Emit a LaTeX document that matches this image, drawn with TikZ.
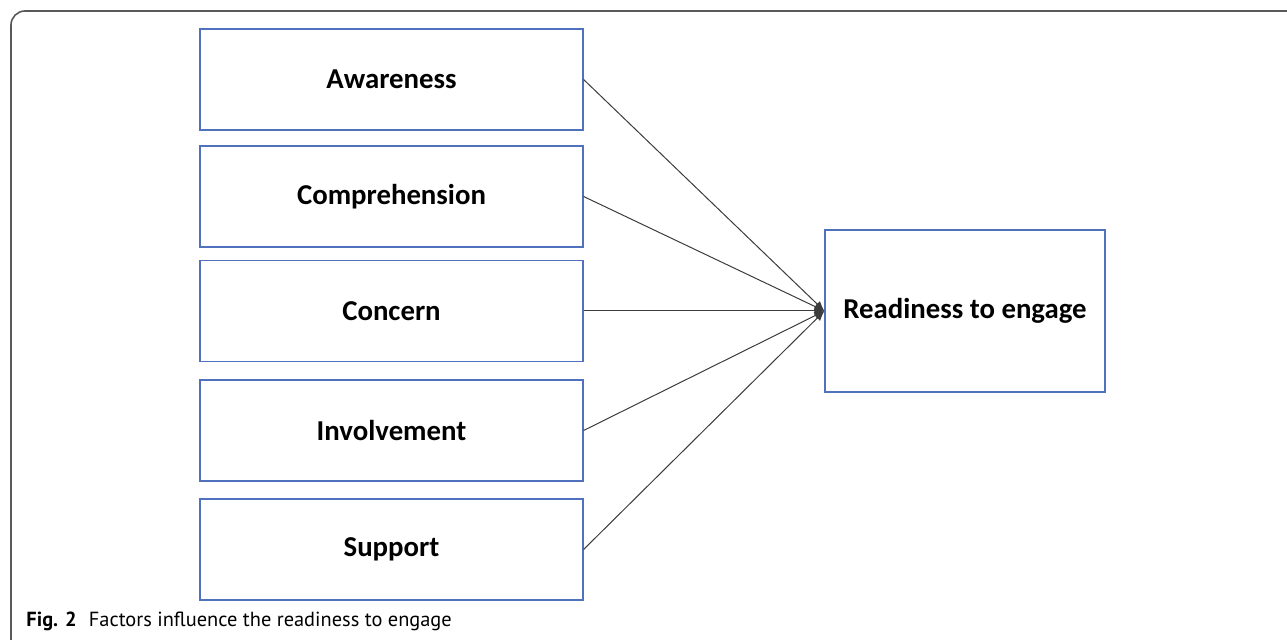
\documentclass[tikz,border=0pt]{standalone}
\usepackage{fontspec}
\setmainfont{Carlito}
\newfontfamily\capfont{PT Sans}
\usetikzlibrary{arrows.meta,positioning}
\definecolor{boxblue}{RGB}{79,113,190}
\definecolor{linegray}{RGB}{60,60,60}
\tikzset{
  facteur/.style={draw=boxblue, line width=0.6pt, minimum width=191.5pt, minimum height=50.5pt,
    font=\fontsize{14.4}{16}\selectfont\bfseries},
  cible/.style={draw=boxblue, line width=0.6pt, minimum width=140pt, minimum height=81pt,
    font=\fontsize{14.4}{16}\selectfont\bfseries},
  fleche/.style={draw=linegray, line width=0.5pt, -{Latex[length=5pt,width=4pt]}}
}

\begin{document}
\begin{tikzpicture}[x=0.5pt,y=-0.5pt]
    \useasboundingbox (0,0) rectangle (1287,640);

    % Cadre de la figure
    \draw[gray!70!black, line width=0.8pt, rounded corners=7pt] (11,640) -- (11,11) -- (1287,11);

    % Les facteurs
    \node[facteur] (aware)   at (391.5,79.5)  {Awareness};
    \node[facteur] (compreh) at (391.5,196.5) {Comprehension};
    \node[facteur] (concern) at (391.5,311)   {Concern};
    \node[facteur] (involv)  at (391.5,430.5) {Involvement};
    \node[facteur] (support) at (391.5,549.5) {Support};

    % La cible
    \node[cible] (ready) at (965,311) {Readiness to engage};

    % Les flèches
    \foreach \f in {aware,compreh,concern,involv,support}
        \draw[fleche] (\f.east) -- (ready.west);

    % Légende
    \node[anchor=base west, inner sep=0pt, font=\capfont\fontsize{10.2}{12}\selectfont] (legende) at (26,627)
        {\textbf{Fig. 2}\hspace{0.6em}Factors influence the readiness to engage};
\end{tikzpicture}
\end{document}
